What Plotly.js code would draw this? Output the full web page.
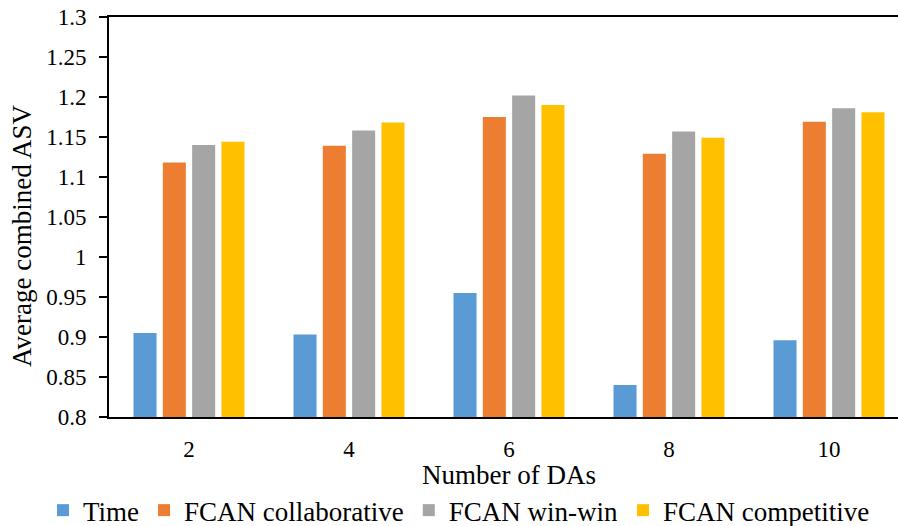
<!DOCTYPE html>
<html>
<head>
<meta charset="utf-8">
<script src="https://cdn.plot.ly/plotly-3.0.1.min.js"></script>
<style>
html, body { margin: 0; padding: 0; overflow: hidden; background: #fff; }
#chart { width: 910px; height: 540px; }
#chart svg text { font-family: 'Liberation Serif', 'Times New Roman', serif !important; }
</style>
</head>
<body>
<div id="chart"></div>
<script>
// Data
const categories = ['2', '4', '6', '8', '10'];
const seriesNames = ['Time', 'FCAN collaborative', 'FCAN win-win', 'FCAN competitive'];
const timeValues = [0.905, 0.903, 0.955, 0.840, 0.896];
const collaborativeValues = [1.118, 1.139, 1.175, 1.129, 1.169];
const winwinValues = [1.140, 1.158, 1.202, 1.157, 1.186];
const competitiveValues = [1.144, 1.168, 1.190, 1.149, 1.181];
const seriesColors = ['#5B9BD5', '#ED7D31', '#A5A5A5', '#FFC000'];
const xTitle = 'Number of DAs';
const yTitle = 'Average combined ASV';

const FONT = 'Liberation Serif';
const allValues = [timeValues, collaborativeValues, winwinValues, competitiveValues];

const traces = allValues.map((vals, i) => ({
  type: 'bar',
  name: seriesNames[i],
  x: categories,
  y: vals,
  marker: { color: seriesColors[i] }
}));

const layout = {
  width: 910,
  height: 540,
  margin: { l: 109, r: 1, t: 17, b: 123 },
  barmode: 'group',
  bargap: 0.267,
  bargroupgap: 0.215,
  font: { family: FONT, size: 23, color: '#000000' },
  xaxis: {
    type: 'category',
    showline: true,
    mirror: true,
    linecolor: '#000000',
    linewidth: 2,
    ticks: '',
    ticklabelstandoff: 10,
    showgrid: false,
    zeroline: false,
    automargin: false,
    tickfont: { family: FONT, size: 23 }
  },
  yaxis: {
    range: [0.8, 1.3],
    dtick: 0.05,
    tick0: 0.8,
    showline: true,
    linecolor: '#000000',
    linewidth: 2,
    ticks: 'outside',
    ticklen: 8,
    tickwidth: 1.5,
    tickcolor: '#000000',
    ticklabelstandoff: 8,
    showgrid: false,
    zeroline: false,
    automargin: false,
    tickfont: { family: FONT, size: 23 }
  },
  annotations: [
    {
      text: xTitle, xref: 'paper', yref: 'paper', x: 0.5, y: -0.145,
      xanchor: 'center', yanchor: 'middle', showarrow: false,
      font: { family: FONT, size: 27, color: '#000000' }
    },
    {
      text: yTitle, xref: 'paper', yref: 'paper', x: -0.109, y: 0.452,
      xanchor: 'center', yanchor: 'middle', textangle: -90, showarrow: false,
      font: { family: FONT, size: 27, color: '#000000' }
    }
  ],
  legend: {
    orientation: 'h',
    xref: 'paper',
    yref: 'paper',
    x: -0.0825,
    xanchor: 'left',
    y: -0.234,
    yanchor: 'middle',
    font: { family: FONT, size: 27, color: '#000000' },
    itemwidth: 30
  },
  showlegend: true
};

Plotly.newPlot('chart', traces, layout, { displayModeBar: false });
</script>
</body>
</html>
